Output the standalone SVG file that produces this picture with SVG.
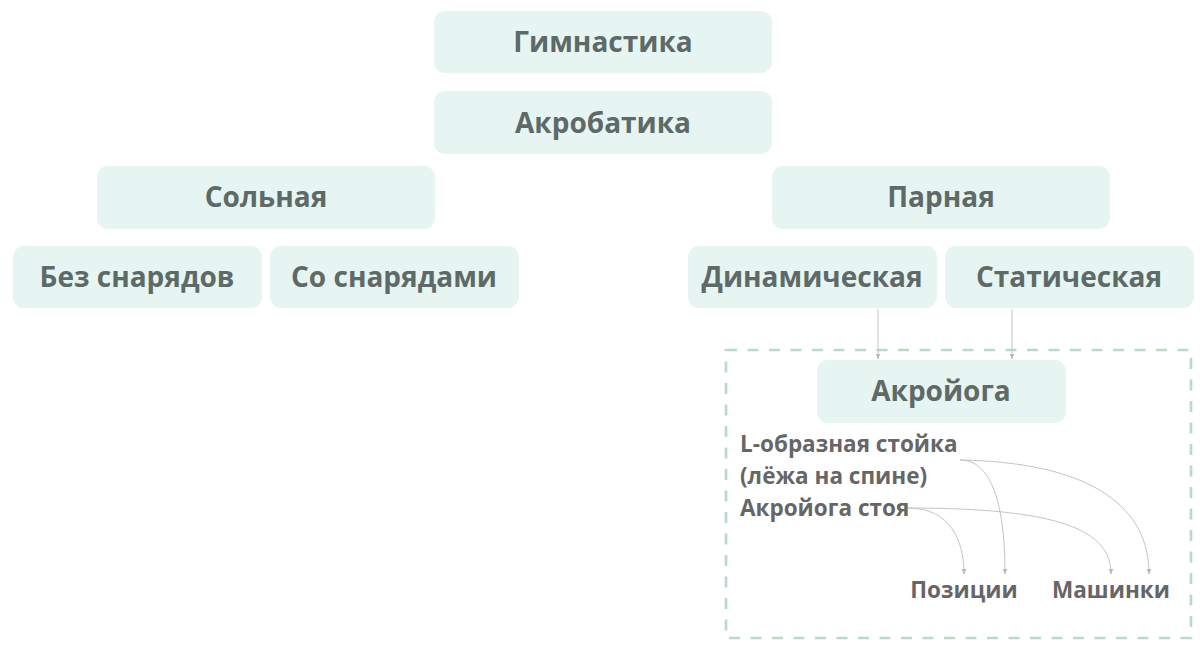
<svg xmlns="http://www.w3.org/2000/svg" width="1200" height="647" viewBox="0 0 1200 647">
<defs>
<style>
.box{fill:#e6f5f1;}
.t{font-family:"Open Sans","Noto Sans","Liberation Sans",sans-serif;font-weight:700;fill:#5e6a67;text-anchor:middle;font-size:28px;}
.s{font-family:"Open Sans","Noto Sans","Liberation Sans",sans-serif;font-weight:700;fill:#666666;font-size:22.5px;}
.c{fill:none;stroke:#c4c4c4;stroke-width:1;}
</style>
<marker id="ah" viewBox="0 0 10 10" refX="9" refY="5" markerWidth="6" markerHeight="6" markerUnits="userSpaceOnUse" orient="auto">
<path d="M0,1 L10,5 L0,9 Z" fill="#b8b8b8"/>
</marker>
</defs>
<rect width="1200" height="647" fill="#ffffff"/>
<g id="container">
<rect x="726" y="350" width="465" height="288" fill="none" stroke="#b7dcc5" stroke-width="2.7" stroke-dasharray="11 10.5"/>
</g>
<g id="n-gym"><rect class="box" x="434" y="11" width="338" height="62" rx="11"/><text class="t" x="603" y="52">Гимнастика</text></g>
<g id="n-acro"><rect class="box" x="434" y="91" width="338" height="63" rx="11"/><text class="t" x="603" y="133">Акробатика</text></g>
<g id="n-solo"><rect class="box" x="97" y="166" width="338" height="63" rx="11"/><text class="t" x="266" y="207">Сольная</text></g>
<g id="n-pair"><rect class="box" x="772" y="166" width="338" height="63" rx="11"/><text class="t" x="941" y="207">Парная</text></g>
<g id="n-noapp"><rect class="box" x="13" y="246" width="249" height="62" rx="11"/><text class="t" x="137" y="287">Без снарядов</text></g>
<g id="n-app"><rect class="box" x="270" y="246" width="249" height="62" rx="11"/><text class="t" x="394" y="287">Со снарядами</text></g>
<g id="n-dyn"><rect class="box" x="688" y="246" width="249" height="62" rx="11"/><text class="t" x="812" y="287">Динамическая</text></g>
<g id="n-stat"><rect class="box" x="945" y="246" width="249" height="62" rx="11"/><text class="t" x="1069" y="287">Статическая</text></g>
<g id="n-acroyoga"><rect class="box" x="817" y="360" width="249" height="63" rx="11"/><text class="t" x="941" y="401">Акройога</text></g>
<g id="n-list">
<text class="s" x="740" y="452">L-образная стойка</text>
<text class="s" x="740" y="484">(лёжа на спине)</text>
<text class="s" x="740" y="516">Акройога стоя</text>
</g>
<g id="n-pos"><text class="s" x="964" y="598" text-anchor="middle">Позиции</text></g>
<g id="n-mash"><text class="s" x="1111" y="598" text-anchor="middle">Машинки</text></g>
<g id="connectors">
<path class="c" d="M878,309 L878,359" marker-end="url(#ah)"/>
<path class="c" d="M1012,309 L1012,359" marker-end="url(#ah)"/>
<path class="c" d="M960,460 C990,460 1005,500 1005,574" marker-end="url(#ah)"/>
<path class="c" d="M960,460 C1080,462 1149,500 1149,574" marker-end="url(#ah)"/>
<path class="c" d="M908,508 C950,508 964,540 964,574" marker-end="url(#ah)"/>
<path class="c" d="M908,508 C1060,508 1111,530 1111,574" marker-end="url(#ah)"/>
</g>
</svg>
